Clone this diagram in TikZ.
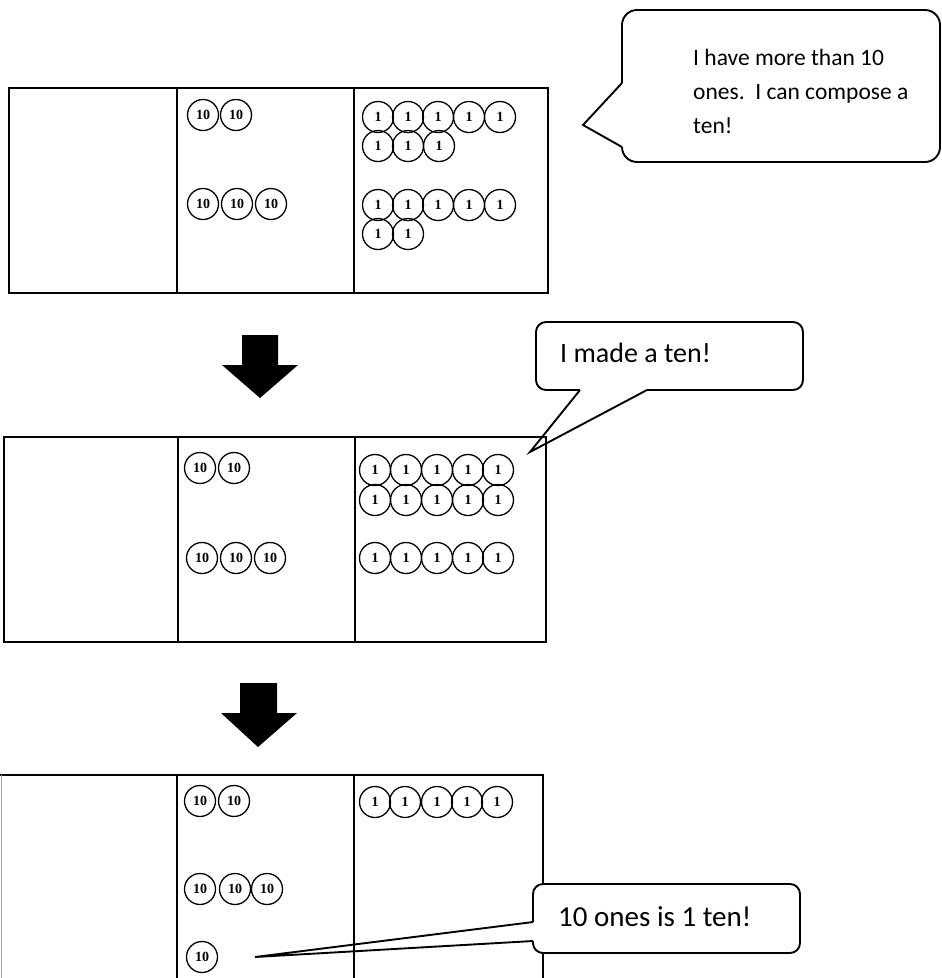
\documentclass[tikz,border=0pt]{standalone}
\usepackage{fontspec}
\newfontfamily\bubblefont{Carlito}
\newfontfamily\coinfont{Liberation Serif}
\begin{document}
\begin{tikzpicture}[x=1pt,y=-1pt,
  panelline/.style={line width=1.9pt},
  coin/.style={circle, draw, line width=1.3pt, minimum size=31pt, inner sep=0pt,
    font=\coinfont\bfseries\fontsize{14}{14}\selectfont},
  bubble/.style={draw, line width=1.9pt, fill=white},
  pointer/.style={line width=1.9pt, line join=miter},
  gapfill/.style={white, line width=3.4pt},
  btext/.style={anchor=base west, inner sep=0pt},
  blockarrow/.style={fill=black}]
\useasboundingbox (0,0) rectangle (942,978);
\clip (0,0) rectangle (942,978);

% ---------- panel 1 ----------
\draw[panelline] (9,88) rectangle (548,293);
\draw[panelline] (177,88) -- (177,293);
\draw[panelline] (354,88) -- (354,293);
\node[coin] (a1) at (203,115) {10};
\node[coin] (a2) at (236,115) {10};
\node[coin] (a3) at (203,204) {10};
\node[coin] (a4) at (237,204) {10};
\node[coin] (a5) at (271,204) {10};
\foreach \x [count=\i] in {378,408,438,469,500}{
  \node[coin] (ao\i) at (\x,117) {1};
  \node[coin] (ap\i) at (\x,205) {1};
}
\foreach \x [count=\i] in {378,408,439}{\node[coin] (aq\i) at (\x,146) {1};}
\foreach \x [count=\i] in {378,408}{\node[coin] (ar\i) at (\x,234) {1};}

% bubble 1
\node[bubble, rounded corners=15pt, minimum width=318pt, minimum height=152pt] (b1) at (781,86) {};
\coordinate (b1a) at (622,83);
\coordinate (b1b) at (622,147);
\coordinate (b1tip) at (583,125);
\draw[gapfill] (b1a) -- (b1b);
\draw[pointer] (b1a) -- (b1tip) -- (b1b);
\node[btext, font=\bubblefont\fontsize{23.5}{28}\selectfont] (t1a) at (693,65) {I have more than 10};
\node[btext, font=\bubblefont\fontsize{23.5}{28}\selectfont] (t1b) at (693,99) {ones.\ \ I can compose a};
\node[btext, font=\bubblefont\fontsize{23.5}{28}\selectfont] (t1c) at (693,133) {ten!};

% arrow 1
\fill[blockarrow] (242,335) -- (278,335) -- (278,365) -- (298,365) -- (260,398) -- (222,365) -- (242,365) -- cycle;

% ---------- panel 2 ----------
\draw[panelline] (4,437) rectangle (546,642);
\draw[panelline] (178,437) -- (178,642);
\draw[panelline] (355,437) -- (355,642);
\node[coin] (c1) at (200,468) {10};
\node[coin] (c2) at (234,468) {10};
\node[coin] (c3) at (202,558) {10};
\node[coin] (c4) at (236,558) {10};
\node[coin] (c5) at (270,558) {10};
\foreach \x [count=\i] in {375,406,437,468,498}{
  \node[coin] (co\i) at (\x,470) {1};
  \node[coin] (cp\i) at (\x,500) {1};
  \node[coin] (cq\i) at (\x,558) {1};
}

% bubble 2
\node[bubble, rounded corners=10pt, minimum width=267pt, minimum height=68pt] (b2) at (669.5,356) {};
\coordinate (b2a) at (580,390);
\coordinate (b2b) at (647,390);
\coordinate (b2tip) at (530,452);
\draw[gapfill] (b2a) -- (b2b);
\draw[pointer] (b2a) -- (b2tip) -- (b2b);
\node[btext, font=\bubblefont\fontsize{28}{32}\selectfont] (t2) at (560,362) {I made a ten!};

% arrow 2
\fill[blockarrow] (240,683) -- (277,683) -- (277,713) -- (297,713) -- (258,747) -- (221,713) -- (240,713) -- cycle;

% ---------- panel 3 ----------
\draw[panelline] (0,775) -- (543,775) -- (543,990);
\draw[line width=0.6pt, black!35] (1,775) -- (1,990);
\draw[panelline] (177,775) -- (177,990);
\draw[panelline] (354,775) -- (354,990);
\node[coin] (e1) at (200,801) {10};
\node[coin] (e2) at (234,801) {10};
\node[coin] (e3) at (200,889) {10};
\node[coin] (e4) at (235,889) {10};
\node[coin] (e5) at (267,889) {10};
\node[coin] (e6) at (202,957) {10};
\foreach \x [count=\i] in {375,405,437,467,497}{
  \node[coin] (eo\i) at (\x,802) {1};
}

% bubble 3
\node[bubble, rounded corners=10pt, minimum width=267pt, minimum height=69pt] (b3) at (666.5,918.5) {};
\coordinate (b3a) at (533,922);
\coordinate (b3b) at (533,941);
\coordinate (b3tip) at (255,957);
\draw[gapfill] (b3a) -- (b3b);
\draw[pointer] (b3a) -- (b3tip) -- (b3b);
\node[btext, font=\bubblefont\fontsize{29}{33}\selectfont] (t3) at (558,926) {10 ones is 1 ten!};
\end{tikzpicture}
\end{document}
